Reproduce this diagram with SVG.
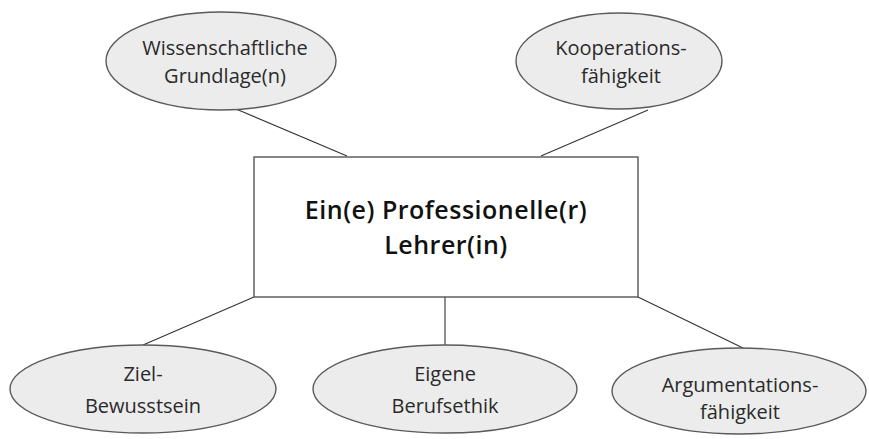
<svg xmlns="http://www.w3.org/2000/svg" width="869" height="439" viewBox="0 0 869 439">
<style>
.bg{fill:#ffffff}
.ell{fill:#ececec;stroke:#5a5a5a;stroke-width:1.4}
.box{fill:#ffffff;stroke:#555555;stroke-width:1.4}
.conn line{stroke:#333333;stroke-width:1.1}
.t{font-family:"Open Sans","Noto Sans",sans-serif;font-size:20px;fill:#2a2a2a;text-anchor:middle}
.tm{font-family:"Open Sans","Noto Sans",sans-serif;font-size:25px;font-weight:600;letter-spacing:0.5px;fill:#111111;text-anchor:middle}
</style>
<rect class="bg" x="0" y="0" width="869" height="439"/>
<g id="connectors" class="conn">
<line x1="236" y1="109" x2="347" y2="156"/>
<line x1="648" y1="110" x2="541" y2="156"/>
<line x1="254" y1="297" x2="143" y2="345"/>
<line x1="445" y1="297" x2="445" y2="345"/>
<line x1="638" y1="297" x2="743" y2="348"/>
</g>
<g id="center">
<rect class="box" x="254" y="157" width="384" height="140"/>
<text class="tm" x="446" y="219">Ein(e) Professionelle(r)</text>
<text class="tm" x="446" y="254">Lehrer(in)</text>
</g>
<g id="wissenschaftliche">
<ellipse class="ell" cx="221" cy="61" rx="115" ry="49"/>
<text class="t" x="225" y="55">Wissenschaftliche</text>
<text class="t" x="225" y="83">Grundlage(n)</text>
</g>
<g id="kooperation">
<ellipse class="ell" cx="619" cy="61" rx="103" ry="48"/>
<text class="t" x="621" y="55">Kooperations-</text>
<text class="t" x="621" y="83">fähigkeit</text>
</g>
<g id="ziel">
<ellipse class="ell" cx="143" cy="389" rx="133" ry="44"/>
<text class="t" x="143" y="381">Ziel-</text>
<text class="t" x="143" y="413">Bewusstsein</text>
</g>
<g id="berufsethik">
<ellipse class="ell" cx="445" cy="389" rx="132" ry="44"/>
<text class="t" x="445" y="381">Eigene</text>
<text class="t" x="445" y="413">Berufsethik</text>
</g>
<g id="argumentation">
<ellipse class="ell" cx="739" cy="391" rx="127" ry="43"/>
<text class="t" x="740" y="392">Argumentations-</text>
<text class="t" x="740" y="419">fähigkeit</text>
</g>
</svg>
